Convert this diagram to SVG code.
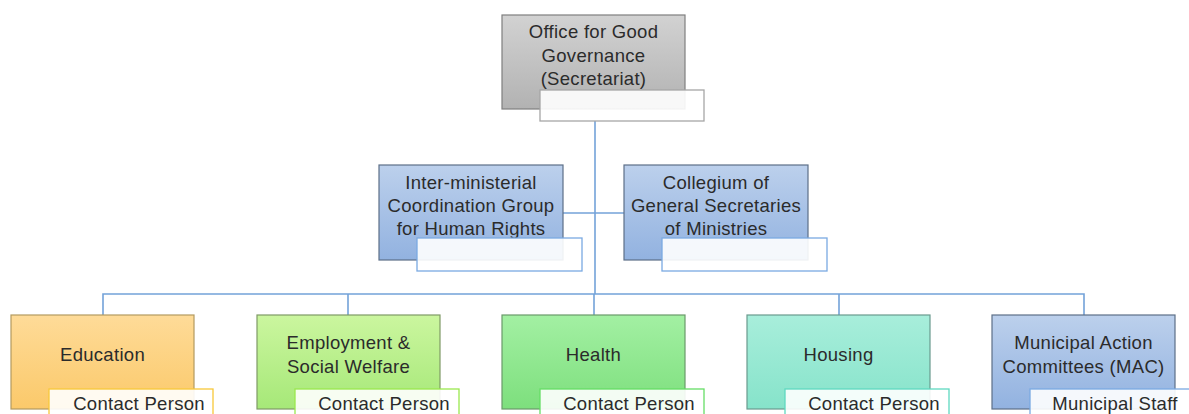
<svg xmlns="http://www.w3.org/2000/svg" width="1189" height="414" viewBox="0 0 1189 414">
  <defs>
    <linearGradient id="gGray" x1="0" y1="0" x2="0" y2="1">
      <stop offset="0" stop-color="#d2d2d2"/>
      <stop offset="1" stop-color="#b2b2b2"/>
    </linearGradient>
    <linearGradient id="gBlue" x1="0" y1="0" x2="0" y2="1">
      <stop offset="0" stop-color="#bcd0ec"/>
      <stop offset="1" stop-color="#92b2e0"/>
    </linearGradient>
    <linearGradient id="gOrange" x1="0" y1="0" x2="0" y2="1">
      <stop offset="0" stop-color="#fedb98"/>
      <stop offset="1" stop-color="#fbc96a"/>
    </linearGradient>
    <linearGradient id="gLime" x1="0" y1="0" x2="0" y2="1">
      <stop offset="0" stop-color="#cbf69f"/>
      <stop offset="1" stop-color="#a6e878"/>
    </linearGradient>
    <linearGradient id="gGreen" x1="0" y1="0" x2="0" y2="1">
      <stop offset="0" stop-color="#a3f0a3"/>
      <stop offset="1" stop-color="#7ddf7d"/>
    </linearGradient>
    <linearGradient id="gTeal" x1="0" y1="0" x2="0" y2="1">
      <stop offset="0" stop-color="#a8eedb"/>
      <stop offset="1" stop-color="#86e3ca"/>
    </linearGradient>
  </defs>
  <style>
    .box { stroke-width: 1.2; }
    .sub { fill: #ffffff; fill-opacity: 0.9; stroke-width: 1.3; }
    .lbl { font-family: "Liberation Sans", Arial, sans-serif; font-size: 18.5px; letter-spacing: 0.3px; fill: #2b2b2b; text-anchor: middle; }
    .conn { fill: none; stroke: #73a2d9; stroke-width: 1.6; }
  </style>

  <g id="connectors">
    <path class="conn" d="M595 121 V294"/>
    <path class="conn" d="M563 213 H624"/>
    <path class="conn" d="M103 315 V294 H1084 V315"/>
    <path class="conn" d="M348 294 V315"/>
    <path class="conn" d="M594 294 V315"/>
    <path class="conn" d="M839 294 V315"/>
  </g>

  <g id="office">
    <rect class="box" x="502" y="15" width="183" height="94" fill="url(#gGray)" stroke="#7f7f7f"/>
    <text class="lbl" x="593.5" y="38">Office for Good</text>
    <text class="lbl" x="593.5" y="62">Governance</text>
    <text class="lbl" x="593.5" y="85">(Secretariat)</text>
    <rect class="sub" x="540" y="90" width="164" height="31" stroke="#a6a6a6"/>
  </g>

  <g id="interministerial">
    <rect class="box" x="379" y="165" width="184" height="95" fill="url(#gBlue)" stroke="#5d6f88"/>
    <text class="lbl" x="471" y="189">Inter-ministerial</text>
    <text class="lbl" x="471" y="212">Coordination Group</text>
    <text class="lbl" x="471" y="235">for Human Rights</text>
    <rect class="sub" x="417" y="238" width="165" height="33" stroke="#7aaae2"/>
  </g>

  <g id="collegium">
    <rect class="box" x="624" y="165" width="184" height="95" fill="url(#gBlue)" stroke="#5d6f88"/>
    <text class="lbl" x="716" y="189">Collegium of</text>
    <text class="lbl" x="716" y="212">General Secretaries</text>
    <text class="lbl" x="716" y="235">of Ministries</text>
    <rect class="sub" x="662" y="238" width="165" height="33" stroke="#7aaae2"/>
  </g>

  <g id="education">
    <rect class="box" x="11" y="315" width="183" height="94" fill="url(#gOrange)" stroke="#b39a5f"/>
    <text class="lbl" x="102.5" y="361">Education</text>
    <rect class="sub" x="49" y="389" width="164" height="33" stroke="#f7c83a"/>
    <text class="lbl" x="139" y="410">Contact Person</text>
  </g>

  <g id="employment">
    <rect class="box" x="257" y="315" width="183" height="94" fill="url(#gLime)" stroke="#7f9a66"/>
    <text class="lbl" x="348.5" y="349">Employment &amp;</text>
    <text class="lbl" x="348.5" y="373">Social Welfare</text>
    <rect class="sub" x="295" y="389" width="164" height="33" stroke="#9ae84e"/>
    <text class="lbl" x="384" y="410">Contact Person</text>
  </g>

  <g id="health">
    <rect class="box" x="502" y="315" width="183" height="94" fill="url(#gGreen)" stroke="#6a9a6a"/>
    <text class="lbl" x="593.5" y="361">Health</text>
    <rect class="sub" x="540" y="389" width="164" height="33" stroke="#66dd66"/>
    <text class="lbl" x="629" y="410">Contact Person</text>
  </g>

  <g id="housing">
    <rect class="box" x="747" y="315" width="183" height="94" fill="url(#gTeal)" stroke="#6a9a8e"/>
    <text class="lbl" x="838.5" y="361">Housing</text>
    <rect class="sub" x="785" y="389" width="164" height="33" stroke="#5fd9c0"/>
    <text class="lbl" x="874" y="410">Contact Person</text>
  </g>

  <g id="mac">
    <rect class="box" x="992" y="315" width="183" height="94" fill="url(#gBlue)" stroke="#5d6f88"/>
    <text class="lbl" x="1083.5" y="349">Municipal Action</text>
    <text class="lbl" x="1083.5" y="373">Committees (MAC)</text>
    <rect class="sub" x="1030" y="389" width="164" height="33" stroke="#7aaae2"/>
    <text class="lbl" x="1115" y="410">Municipal Staff</text>
  </g>
</svg>
